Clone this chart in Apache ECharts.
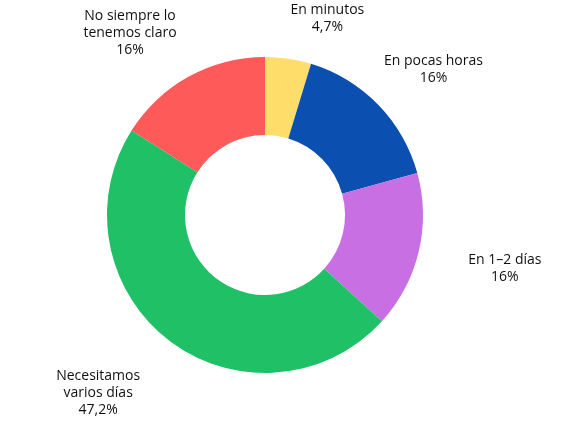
<!DOCTYPE html>
<html><head><meta charset="utf-8">
<script src="https://cdn.jsdelivr.net/npm/echarts@6/dist/echarts.min.js"></script>
<style>html,body{margin:0;padding:0;background:#fff}#c{width:571px;height:431px}</style>
</head><body><div id="c"></div>
<script>
const categories = ["En minutos","En pocas horas","En 1–2 días","Necesitamos varios días","No siempre lo tenemos claro"];
const labelNames = ["En minutos","En pocas horas","En 1–2 días","Necesitamos\nvarios días","No siempre lo\ntenemos claro"];
const values = [4.7,16,16,47.2,16];
const valueLabels = ["4,7%","16%","16%","47,2%","16%"];
const colors = ["#FFDD6B","#0B4FB0","#C76FE3","#20C067","#FF5A5A"];
const chart = echarts.init(document.getElementById('c'));
const shift = [[-35,-25],[-40,-25],[0,13],[15,40],[30,-30]];
chart.setOption({
  animation:false,
  series:[{
    type:'pie',
    center:[265,215],
    radius:[80,158],
    startAngle:90,
    clockwise:true,
    data:values.map((v,i)=>({value:v,name:categories[i],itemStyle:{color:colors[i]}})),
    label:{show:true,position:'outside',distance:8,color:'#111',fontFamily:'Open Sans',fontSize:14,lineHeight:17,
      formatter:p=>labelNames[p.dataIndex]+'\n'+valueLabels[p.dataIndex]},
    labelLine:{show:false},
    labelLayout:function(p){
      const r=p.labelRect, s=shift[p.dataIndex];
      return {align:'center',verticalAlign:'middle',x:r.x+r.width/2+s[0],y:r.y+r.height/2+s[1]};
    }
  }]
});
</script></body></html>
